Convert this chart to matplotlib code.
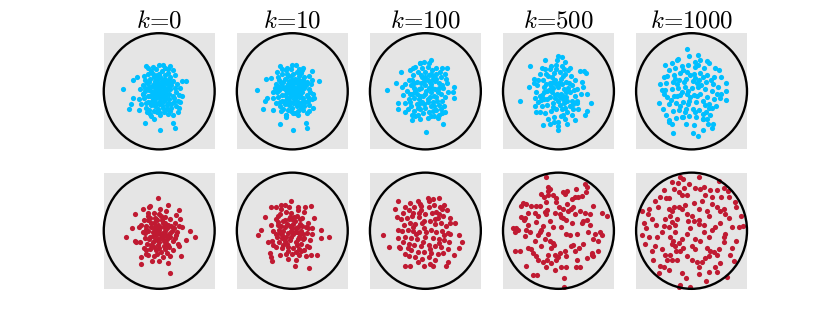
import numpy as np
import matplotlib.pyplot as plt
from matplotlib.patches import Circle

plt.rcParams['mathtext.fontset'] = 'cm'

# iteration counts shown above each column
steps = [0, 10, 100, 500, 1000]

# particle positions (disc radius = 100)
blue_k0 = [(-65, 4), (1, -66), (28, -63), (24, -55), (-26, -55), (-10, -47), (-55, -30), (-50, -21),
           (-47, -12), (-36, -33), (48, 18), (41, 18), (-47, 19), (-40, 24), (-23, 43), (0, 46), (6, 46),
           (19, 43), (25, 36), (38, -18), (36, -28), (33, -36), (16, -39), (0, -36), (-17, -39), (-29, -5),
           (38, 5), (41, -8),
           (-30, 10), (-25, 20), (-20, 30), (-15, 35), (-10, 25), (-5, 38), (0, 30), (5, 35), (10, 28),
           (15, 32), (20, 25), (12, 20), (5, 18), (-2, 15), (-10, 12), (-18, 8), (-25, 0), (-20, -8),
           (-12, -4), (-5, 2), (2, 5), (8, 8), (15, 12), (22, 10), (28, 5), (30, -2), (25, -8), (18, -4),
           (10, -2), (3, -6), (-4, -10), (-12, -14), (-20, -18), (-28, -12), (-32, -22), (-24, -28),
           (-15, -24), (-6, -20), (2, -16), (10, -12), (18, -14), (26, -18), (30, -26), (22, -28),
           (14, -24), (6, -28), (-2, -30), (-10, -34), (-18, -32), (8, -36), (20, -34), (-8, -26), (0, -22),
           (12, -6), (-16, 22), (-8, 6), (6, 14), (24, 18), (32, 12), (-28, 26), (0, 0), (4, -2), (-6, -4),
           (14, 2), (-14, 0), (-22, 14), (18, 20), (10, 40), (-12, 42), (-34, 4), (36, -6), (-30, -4),
           (-26, 6), (-18, 16), (-8, 18), (2, 24), (12, 14), (20, 4), (26, -12), (16, -20), (4, -10),
           (-8, -14), (-16, -8), (-24, -20), (-4, 28), (8, 22), (-12, 30), (16, 38), (-20, 40), (28, 28),
           (-36, -14), (34, -16), (-2, 8), (10, 4), (-10, -20), (2, -40), (-14, -42), (24, -40), (6, -8),
           (-4, -36), (14, -30), (-22, -36),
           (3, 11), (9, -17), (-7, -7), (17, 7), (-13, 9), (1, -11), (7, 1), (-3, 21), (13, -11), (-9, -1),
           (21, -21), (-19, 3), (5, -24), (-1, -3), (11, 17), (-15, -18), (19, 14), (-5, 12)]

blue_k10 = [(-64, 2), (1, -67), (27, -63), (25, -54), (-23, -57), (-11, -45), (-53, -30), (-50, -17),
            (-46, -11), (-35, -33), (49, 17), (36, 19), (-47, 22), (-38, 23), (-28, 34), (-22, 43), (0, 46),
            (7, 46), (20, 40), (36, 35), (40, -11), (37, -28), (31, -34), (11, -40), (2, -37), (-11, -40),
            (-34, -2),
            (-30, 12), (-24, 20), (-18, 30), (-12, 36), (-8, 26), (-2, 38), (2, 30), (8, 34), (12, 26),
            (16, 32), (22, 24), (14, 18), (6, 16), (0, 14), (-8, 12), (-16, 8), (-24, 2), (-18, -6),
            (-10, -2), (-4, 4), (4, 6), (10, 8), (16, 12), (24, 10), (30, 4), (32, -2), (26, -6), (18, -2),
            (12, 0), (4, -4), (-2, -8), (-10, -12), (-18, -16), (-26, -10), (-30, -20), (-22, -26),
            (-14, -22), (-4, -18), (4, -14), (12, -10), (20, -12), (28, -16), (30, -24), (22, -26),
            (14, -22), (8, -26), (0, -28), (-8, -32), (-16, -30), (10, -34), (20, -32), (-6, -24), (2, -20),
            (14, -4), (-14, 22), (-6, 8), (8, 14), (26, 16), (34, 12), (-26, 24), (2, 2), (6, 0), (-4, -2),
            (16, 4), (-12, 2), (-20, 14), (20, 20), (12, 38), (-10, 40), (-32, 6), (38, -4), (-28, -2),
            (-24, 8), (-16, 16), (-6, 18), (4, 22), (14, 12), (22, 6), (28, -10), (18, -18), (6, -8),
            (-6, -12), (-14, -6), (-22, -18), (-2, 26), (10, 20), (-10, 30), (18, 36), (-18, 38), (30, 26),
            (-34, -12), (36, -14), (0, 8), (12, 2), (-8, -18), (4, -38), (-12, -40), (26, -38), (8, -6),
            (-2, -34), (16, -28), (-20, -34),
            (1, 12), (11, -19), (-5, -5), (19, 9), (-11, 7), (3, -13), (9, 3), (-1, 19), (15, -9), (-7, 1),
            (23, -19), (-17, 5), (7, -22), (1, -1), (13, 15), (-13, -16), (21, 12), (-3, 10)]

blue_k100 = [(-70, 2), (1, -70), (31, -57), (23, -46), (-10, -48), (-25, -49), (-49, -30), (-49, -20),
             (-36, -36), (52, 7), (49, -2), (51, -11), (-53, 14), (-44, 34), (-43, 7), (-22, 40), (-10, 49),
             (-2, 50), (11, 54), (20, 40), (30, 40), (39, 40), (36, 30), (39, 14), (36, -36), (30, -37),
             (11, -42), (-19, -42),
             (-30, 20), (-22, 28), (-14, 34), (-6, 40), (4, 42), (12, 36), (20, 30), (28, 24), (-26, 10),
             (-16, 16), (-6, 24), (6, 28), (14, 22), (24, 14), (32, 6), (-34, 0), (-24, -4), (-12, 4),
             (0, 10), (10, 12), (18, 4), (28, -4), (36, -10), (-30, -14), (-20, -12), (-10, -8), (0, -4),
             (10, -2), (20, -10), (30, -16), (-26, -26), (-16, -22), (-6, -18), (4, -14), (14, -18),
             (24, -24), (-20, -34), (-10, -30), (0, -28), (10, -26), (20, -32), (-4, -38), (6, -36),
             (-14, -40), (16, -42), (-36, 12), (-40, -6), (38, 22), (40, -2), (-8, 14), (2, 0), (-2, 18),
             (8, -10), (-18, 0), (18, 18), (26, 34), (-10, 48), (6, 48), (-28, 36), (34, -26), (-32, -30),
             (12, 6), (-4, -8), (22, -2), (-24, 20), (14, -34), (0, 34), (-18, 42), (30, 10), (-12, -14),
             (8, 16), (-2, -22), (16, -8), (-36, -20), (24, -40), (-24, -40), (4, -46), (-20, 6),
             (-28, -4), (4, 20), (20, 22), (-14, -28), (28, -30), (-8, 28), (10, 30),
             (-15, -5), (5, -19), (-21, 15), (13, 27), (-7, 5), (25, 5), (-27, -19), (15, -25), (-1, 25),
             (-11, -21), (21, -17), (7, 5)]

blue_k500 = [(-69, -17), (0, -66), (0, -60), (-27, -58), (-15, -56), (15, -56), (30, -50), (48, -41),
             (51, -34), (58, -20), (51, -5), (38, 35), (46, 35), (50, 31), (-51, 43), (-24, 54), (0, 60),
             (6, 59), (12, 51), (18, 37), (-54, 7), (-44, 14), (-42, -11), (-40, -35), (-33, -35), (9, -41),
             (33, -17), (42, 16),
             (-34, 30), (-24, 38), (-14, 44), (-4, 46), (6, 44), (-28, 20), (-18, 26), (-8, 32), (2, 34),
             (12, 30), (22, 26), (30, 20), (-38, 10), (-26, 8), (-16, 14), (-6, 20), (4, 22), (14, 16),
             (24, 10), (34, 4), (-40, -2), (-30, -6), (-20, 0), (-10, 6), (0, 8), (10, 4), (20, -2),
             (30, -8), (40, -4), (-36, -18), (-26, -14), (-16, -10), (-6, -6), (4, -4), (14, -10),
             (24, -16), (34, -20), (-30, -26), (-20, -24), (-10, -20), (0, -16), (10, -20), (20, -26),
             (-24, -38), (-14, -34), (-4, -30), (6, -30), (16, -36), (-8, -44), (4, -42), (-2, -4),
             (-12, -2), (8, -8), (-22, 12), (18, 6), (-4, 12), (26, -30), (-34, -8), (-44, 22), (44, 8),
             (-16, 38), (10, 38), (-30, 40), (20, 40), (36, -30), (-42, -26), (0, -52), (-18, -48),
             (12, -48), (-6, -12), (6, 12), (-26, -2), (28, 2), (-12, 24), (8, 26), (-20, -14), (16, -16),
             (-36, 20), (2, -24), (-8, -52), (24, -40), (-2, 54), (-10, 16), (14, -2),
             (-17, 3), (3, -9), (-23, 29), (11, -29), (-9, -27), (19, 15), (-31, -15), (1, 15), (-13, 9),
             (27, -21), (-5, 39), (9, -13)]

blue_k1000 = [(-58, -20), (-33, -71), (3, -71), (12, -77), (20, -66), (36, -64), (39, -56), (-9, 72),
              (12, 63), (16, 54), (6, 51), (32, 48), (-48, 45), (-36, 48), (-24, 56), (-57, 12), (-53, 3),
              (-49, -4), (63, 15), (63, 0), (63, -15), (50, 36), (54, 24), (51, -11), (-46, -41), (-40, -50),
              (-18, -44), (21, -47), (28, -47), (36, -29),
              (-40, 36), (-30, 40), (-18, 44), (-6, 46), (6, 42), (22, 40), (-44, 26), (-32, 28), (-20, 32),
              (-8, 34), (4, 30), (16, 32), (28, 28), (40, 24), (-46, 14), (-34, 16), (-22, 20), (-10, 22),
              (2, 18), (14, 20), (26, 16), (38, 12), (48, 8), (-48, 2), (-36, 4), (-24, 6), (-12, 8),
              (0, 6), (12, 8), (24, 4), (36, 0), (46, -4), (-44, -10), (-32, -8), (-20, -6), (-8, -4),
              (4, -6), (16, -4), (28, -10), (40, -14), (-40, -22), (-28, -20), (-16, -18), (-4, -16),
              (8, -18), (20, -16), (32, -22), (44, -26), (-34, -34), (-22, -32), (-10, -30), (2, -30),
              (14, -32), (26, -36), (-28, -46), (-16, -44), (-4, -42), (8, -44), (20, -48), (-10, -56),
              (4, -58), (-40, -52), (30, -56), (-52, -30), (54, -4), (-4, 60), (-26, 54), (28, 52),
              (-14, 16), (10, -8), (-26, -8), (20, 24), (-6, -22), (34, -40), (-36, -56), (-2, 28),
              (10, 14), (-18, -2), (6, -36), (-30, 22), (24, -24), (-12, -36), (42, 40), (-50, 24),
              (-3, -9), (17, 11), (-27, 13), (31, -29), (-15, 37), (7, 23), (-37, -15), (21, -39),
              (-7, 1), (35, 19), (-21, -25), (11, 45)]

red_k0 = [(-59, -10), (-2, 57), (16, 45), (35, 35), (-17, 43), (-29, 37), (-43, 28), (-49, 4), (-41, -20),
          (-33, -46), (-33, -57), (-13, -52), (15, -55), (19, -72), (40, -43), (36, -27), (48, -16), (55, -1),
          (64, -11), (42, 7), (37, 20), (30, 27), (-20, 31), (-44, -17), (-23, -40),
          (-28, 18), (-20, 26), (-10, 30), (0, 28), (10, 24), (20, 20), (-24, 8), (-14, 14), (-4, 18),
          (6, 14), (16, 10), (26, 4), (-30, -2), (-20, 0), (-10, 4), (0, 2), (10, 0), (20, -4), (30, -8),
          (-26, -12), (-16, -10), (-6, -8), (4, -12), (14, -14), (24, -18), (-22, -22), (-12, -20),
          (-2, -24), (8, -26), (18, -28), (-16, -32), (-6, -34), (4, -36), (14, -38), (-10, -44), (6, -46),
          (-34, -20), (34, -22), (-2, -14), (-8, 22), (12, 34), (-18, 40), (2, 38), (-36, 6), (36, 8),
          (-4, -2), (6, -4), (-12, -2), (16, -24), (-24, -34), (24, -34), (0, -52), (-14, 6), (14, 4),
          (-6, 8), (4, 26), (-28, -30), (28, -12), (-20, 18), (20, -10), (-8, -16), (8, -18), (-2, 10),
          (10, 14), (-32, 10), (32, -2), (-10, -28), (0, -30), (10, -32), (-20, -42), (20, -44), (-16, 22),
          (2, -6), (22, 8), (-26, -4), (12, -8), (-6, 20), (8, 6), (-18, -14), (28, 14), (-4, -40),
          (-1, -19), (13, -21), (-15, -25), (5, 19), (-9, 13), (23, -1), (-23, 3), (1, 7), (17, -7),
          (-11, -9), (7, -11), (-5, 3)]

red_k10 = [(-62, -7), (-57, 2), (-49, 23), (-39, 41), (-29, 41), (-20, 45), (-13, 45), (-2, 52), (11, 41),
           (23, 40), (33, 42), (40, 22), (51, 2), (51, -13), (67, -10), (45, -42), (33, -42), (31, -64),
           (5, -61), (-38, -46), (-37, -52), (-40, -39), (-44, -19), (-34, -25), (-23, -42),
           (-30, 20), (-22, 28), (-12, 32), (-2, 30), (8, 26), (18, 22), (28, 14), (-26, 10), (-16, 16),
           (-6, 20), (4, 16), (14, 12), (24, 6), (-34, 0), (-24, 2), (-14, 6), (-4, 8), (6, 4), (16, 0),
           (26, -4), (36, -6), (-28, -10), (-18, -8), (-8, -4), (2, -6), (12, -10), (22, -12), (32, -16),
           (-24, -20), (-14, -18), (-4, -16), (6, -20), (16, -22), (26, -26), (-18, -30), (-8, -28),
           (2, -30), (12, -32), (22, -34), (-12, -40), (0, -40), (12, -42), (-30, -28), (-38, 10), (36, 4),
           (-6, 40), (10, 36), (-20, 38), (22, 32), (-2, 0), (8, -2), (-10, 12), (0, 20), (-22, -4),
           (18, 8), (-16, -24), (14, -6), (30, -28), (-36, -18), (-8, -48), (6, -50), (24, -44), (-26, 26),
           (2, 12), (-12, -10), (10, -14), (-20, 8), (20, -6), (-4, 24), (6, -36), (-30, -6), (28, 4),
           (-10, -22), (14, 20), (-16, 0),
           (-3, -11), (11, 7), (-19, -13), (3, 23), (-7, -35), (19, -15), (-25, 15), (9, -25), (-1, 5),
           (15, -35), (-13, 19), (5, -3)]

red_k100 = [(-76, -8), (-66, -28), (-49, 51), (-54, 37), (-52, 23), (-49, 1), (-49, -13), (-47, -28),
            (-37, -40), (-37, -60), (-28, -60), (-13, -54), (-2, -60), (8, -57), (14, -60), (37, -61),
            (41, -54), (51, -42), (60, -30), (66, -19), (60, -8), (54, 14), (45, 22), (39, 36), (30, 37),
            (25, 56), (4, 57), (7, 51), (-7, 43), (-23, 31), (45, -5), (43, -20),
            (-40, 30), (-30, 36), (-20, 40), (-8, 36), (6, 40), (16, 44), (24, 28), (-44, 20), (-34, 22),
            (-24, 26), (-12, 24), (0, 28), (12, 30), (22, 22), (32, 26), (-38, 10), (-28, 14), (-18, 12),
            (-6, 14), (8, 16), (18, 12), (28, 14), (38, 8), (-42, 0), (-32, 2), (-22, 0), (-12, -2),
            (10, 2), (20, -2), (30, 0), (40, -4), (-36, -10), (-26, -12), (-16, -14), (14, -12), (24, -14),
            (34, -16), (-40, -20), (-30, -22), (-20, -24), (-8, -26), (6, -24), (18, -26), (28, -28),
            (-26, -34), (-14, -36), (-2, -36), (10, -38), (22, -40), (32, -38), (-18, -46), (-6, -48),
            (6, -46), (18, -50), (-30, -44), (-4, -20), (-10, 46), (-28, 48), (34, 44), (44, 14),
            (-46, -30), (40, -32), (2, -2), (-2, 4), (0, -10), (26, 40), (-36, 40), (14, 54), (-14, 52),
            (-23, 7), (17, 21), (-31, -29), (25, -21), (-11, 31), (33, -7), (-17, -5), (9, -31), (-3, 17),
            (19, 33)]

red_k500 = [(-22, 92), (-19, 75), (-16, 72), (-31, 64), (-26, 58), (-19, 61), (-10, 61), (-4, 57), (-4, 49),
            (8, 67), (16, 69), (31, 72), (48, 80), (49, 66), (30, 58), (25, 54), (36, 58), (43, 60),
            (-64, 48), (-58, 46), (-67, 43), (-49, 43), (-40, 42), (-34, 42), (-22, 49), (-20, 36),
            (-23, 28), (-37, 25), (-55, 31), (-67, 23), (-61, 22), (-43, 31),
            (27, 40), (17, 34), (8, 37), (2, 28), (-7, 31), (1, 40), (39, 34), (48, 30), (63, 43), (78, 30),
            (87, 25), (57, 28), (30, 28), (16, 46),
            (-82, 5), (-76, 4), (-79, -2), (-73, 1), (-55, 10), (-58, 1), (-60, -9), (-40, 15), (-31, 1),
            (-37, -8), (-25, -14), (-43, -17), (-19, -5), (-10, 7), (-16, 16),
            (8, 22), (14, 19), (25, 13), (5, 7), (14, -5), (20, -8), (33, -5), (43, 13), (57, 10), (54, -2),
            (66, -5), (75, -2), (79, -8), (63, -14), (45, -23), (37, -29), (30, -35), (51, 19), (72, -17),
            (-79, -35), (-70, -35), (-55, -29), (-46, -39), (-40, -44), (-37, -50), (-58, -61), (-46, -77),
            (-38, -77), (-28, -53), (-23, -62), (-19, -41), (-13, -29), (-10, -21), (-31, -26), (-16, -17),
            (-7, -41), (-4, -50), (2, -38), (11, -35), (14, -44), (23, -26), (5, -62), (14, -62), (31, -63),
            (39, -62), (51, -47), (60, -39), (63, -44), (72, -35), (10, -81), (10, -97), (-7, -68),
            (-13, -56), (33, -50),
            (-18, 69), (12, 64), (-62, 19), (-34, -3), (-8, -25), (26, -24), (-49, -32), (-1, -46),
            (44, 16), (-24, 32), (22, 37), (60, -42), (-20, -50), (52, 76), (-52, -2), (-28, 9), (4, 24)]

red_k1000 = [(-20, 92), (-16, 89), (-24, 83), (-36, 84), (13, 92), (-4, 80), (-14, 73), (-9, 61), (-17, 61),
             (-23, 66), (-32, 72), (-50, 70), (-56, 58), (-46, 57), (-40, 57), (7, 73), (16, 72), (22, 75),
             (34, 70), (49, 86), (45, 70), (58, 73), (37, 58), (24, 61), (18, 52), (36, 46), (54, 58),
             (67, 58), (78, 49),
             (-90, 34), (-77, 37), (-78, 28), (-72, 21), (-86, 13), (-83, 4), (-89, -8), (-84, -23),
             (-77, -11), (-65, 10), (-62, -11), (-66, -26), (-72, -35), (-53, -31), (-53, -2), (-50, 9),
             (-60, 40),
             (-41, 37), (-36, 34), (-31, 40), (-38, 25), (-35, 15), (-41, 7), (-29, 10), (-23, 40), (-17, 37),
             (-38, -11), (-33, -17), (-36, -23), (-29, -26), (-23, -21), (-18, -15), (-16, -29), (-20, -35),
             (-28, -35), (-47, -41), (-38, -41), (-44, -50), (-56, -61), (-50, -62), (-58, -73), (-40, -67),
             (-35, -50), (-26, -50), (-17, -73), (-23, -97), (-20, -93), (-2, -96),
             (-8, 28), (0, 25), (-6, 17), (4, 16), (13, 19), (14, 11), (22, 10), (31, 25), (28, 34), (13, 37),
             (-2, 4), (-8, -5), (7, -14), (16, -17), (1, -26), (7, -32), (-8, -44), (1, -50), (10, -53),
             (19, -53), (13, -62), (14, -74), (25, -47), (31, -44), (34, -35), (40, -37), (28, -29),
             (31, -11),
             (45, 40), (52, 34), (58, 37), (61, 28), (67, 22), (80, 40), (89, 25), (73, 7), (86, 7), (92, 9),
             (52, 13), (43, 7), (37, 1), (61, -5), (58, -11), (73, -29), (70, -41), (49, -32), (45, -41),
             (52, -56), (43, -63), (45, -71), (31, -71), (64, -80), (58, -20), (80, -17),
             (-26, 20), (-12, 44), (66, 68), (-66, 52), (-70, -50), (-10, -82), (26, -86), (76, -52),
             (-30, -2), (22, -2), (-48, 20), (4, 48)]

blue = '#00bfff'
red = '#c01a32'
panel_bg = '#e5e5e5'


def draw_panel(ax, pts, color):
    """Scatter the particles inside the unit disc."""
    xy = np.array(pts, dtype=float) / 100.0
    ax.set_facecolor(panel_bg)
    ax.scatter(xy[:, 0], xy[:, 1], s=14, color=color, linewidths=0, zorder=2)
    ax.add_patch(Circle((0, 0), 1.0, fill=False, edgecolor='black', lw=1.7,
                        clip_on=False, zorder=3))
    ax.set_xlim(-1.0, 1.0)
    ax.set_ylim(-1.0, 1.0)
    ax.set_xticks([])
    ax.set_yticks([])
    for sp in ax.spines.values():
        sp.set_visible(False)


fig, axes = plt.subplots(2, 5, figsize=(8.3, 3.32), dpi=100)
fig.subplots_adjust(left=0.125, right=0.9, top=0.9, bottom=0.13, wspace=0.2, hspace=0.2)

top_row = [blue_k0, blue_k10, blue_k100, blue_k500, blue_k1000]
bottom_row = [red_k0, red_k10, red_k100, red_k500, red_k1000]

for i, k in enumerate(steps):
    draw_panel(axes[0, i], top_row[i], blue)
    draw_panel(axes[1, i], bottom_row[i], red)
    axes[0, i].set_title(r'$k$=%d' % k, fontsize=18, family='cmr10', pad=4)

fig.savefig('out.png', dpi=100)
